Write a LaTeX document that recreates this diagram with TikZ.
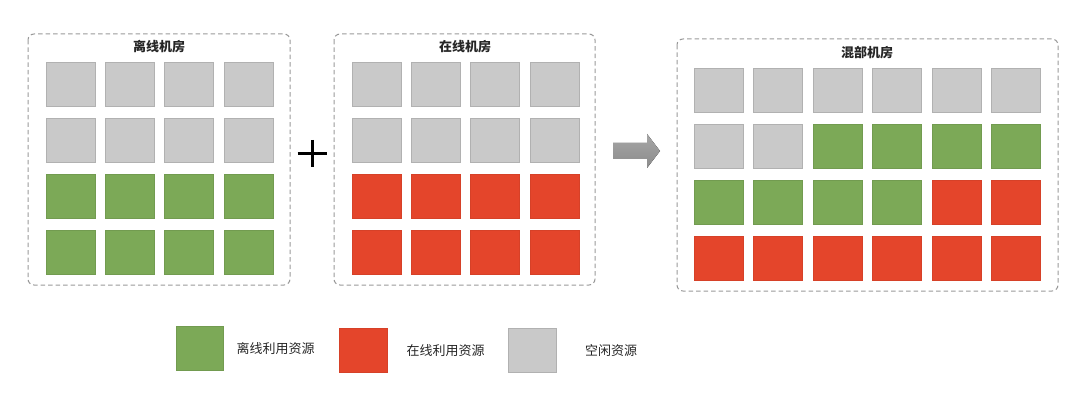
\documentclass[tikz,border=0pt]{standalone}
\usepackage{fontspec}
\usepackage{tikz}
\newfontfamily\cjk{Noto Sans CJK SC}
\definecolor{idle}{HTML}{C9C9C9}
\definecolor{offline}{HTML}{7CA957}
\definecolor{online}{HTML}{E4452B}
\definecolor{frame}{HTML}{999999}
\tikzset{
    cell/.style={minimum width=49pt, minimum height=44pt, inner sep=0pt, line width=0.6pt},
    idlecell/.style={cell, fill=idle, draw=idle!88!black},
    offcell/.style={cell, fill=offline, draw=offline!92!black},
    oncell/.style={cell, fill=online, draw=online!94!black},
    room/.style={draw=frame, dashed, dash pattern=on 4.5pt off 3pt, line width=1pt, rounded corners=6pt},
    roomtitle/.style={font=\cjk\bfseries\fontsize{13}{15}\selectfont, text=black!85, inner sep=0pt},
    legendtext/.style={font=\cjk\fontsize{13}{15}\selectfont, text=black!85, inner sep=0pt}
}

\begin{document}
\begin{tikzpicture}[x=1pt, y=-1pt]
        \useasboundingbox (0, 0) rectangle (1080, 401);
        % offline room
        \draw[room] (28, 34) rectangle (290, 285);
        \node[roomtitle] (offtitle) at (159, 47) {离线机房};
        \foreach \c in {0,...,3} {
            \foreach \r in {0,1}
                \node[idlecell] (a-\r-\c) at (70.5+59.3*\c, 84.5+56*\r) {};
            \foreach \r in {2,3}
                \node[offcell] (a-\r-\c) at (70.5+59.3*\c, 84.5+56*\r) {};
        }
        % plus sign
        \draw[line width=3pt] (297.5, 153.5) -- (326.5, 153.5);
        \draw[line width=3pt] (312, 140) -- (312, 167);
        % online room
        \draw[room] (334, 34) rectangle (595, 285);
        \node[roomtitle] (ontitle) at (465, 47) {在线机房};
        \foreach \c in {0,...,3} {
            \foreach \r in {0,1}
                \node[idlecell] (b-\r-\c) at (376.5+59.3*\c, 84.5+56*\r) {};
            \foreach \r in {2,3}
                \node[oncell] (b-\r-\c) at (376.5+59.3*\c, 84.5+56*\r) {};
        }
        % arrow
        \fill[top color=gray!70, bottom color=gray!90]
            (613, 143) -- (647, 143) -- (647, 134) -- (660, 151) -- (647, 168)
            -- (647, 159) -- (613, 159) -- cycle;
        % mixed room
        \draw[room] (677, 39) rectangle (1058, 291);
        \node[roomtitle] (mixtitle) at (867, 53) {混部机房};
        \foreach \c in {0,...,5}
            \node[idlecell] (m-0-\c) at (718.5+59.5*\c, 90) {};
        \foreach \c/\s in {0/idlecell, 1/idlecell, 2/offcell, 3/offcell, 4/offcell, 5/offcell}
            \node[\s] (m-1-\c) at (718.5+59.5*\c, 146) {};
        \foreach \c/\s in {0/offcell, 1/offcell, 2/offcell, 3/offcell, 4/oncell, 5/oncell}
            \node[\s] (m-2-\c) at (718.5+59.5*\c, 202) {};
        \foreach \c in {0,...,5}
            \node[oncell] (m-3-\c) at (718.5+59.5*\c, 258) {};
        % legend
        \node[offcell, minimum width=47pt] (keyoff) at (199.5, 348) {};
        \node[legendtext] (keyofftext) at (275.5, 349) {离线利用资源};
        \node[oncell, minimum width=48pt] (keyon) at (363, 350) {};
        \node[legendtext] (keyontext) at (445.5, 351) {在线利用资源};
        \node[idlecell, minimum width=48pt] (keyidle) at (532, 350) {};
        \node[legendtext] (keyidletext) at (611, 351) {空闲资源};
    \end{tikzpicture}
\end{document}
